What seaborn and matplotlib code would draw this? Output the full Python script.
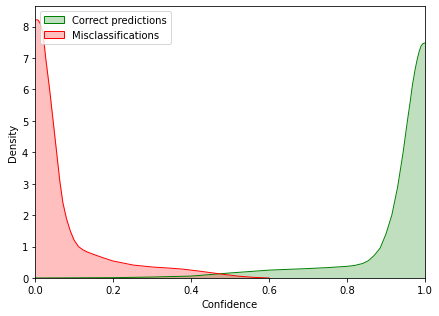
import matplotlib
matplotlib.use("Agg")
import matplotlib.pyplot as plt
import seaborn as sns
from matplotlib.patches import Patch

# Density curves
correct_x = [0.0, 0.1, 0.2, 0.3, 0.4, 0.5, 0.6, 0.7, 0.75, 0.8, 0.82, 0.84, 0.855,
             0.87, 0.885, 0.9, 0.915, 0.93, 0.944, 0.955, 0.962, 0.968, 0.975,
             0.98, 0.985, 0.99, 0.995, 1.0]
correct_y = [0.0, 0.005, 0.01, 0.03, 0.06, 0.16, 0.25, 0.3, 0.33, 0.37, 0.4, 0.46, 0.55,
             0.72, 0.95, 1.4, 2.0, 2.9, 4.0, 5.0, 5.6, 6.15, 6.65,
             6.95, 7.2, 7.38, 7.46, 7.48]

mis_x = [0.0, 0.004, 0.008, 0.013, 0.02, 0.027, 0.037, 0.046, 0.055, 0.063, 0.071,
         0.08, 0.09, 0.1, 0.111, 0.122, 0.133, 0.15, 0.175, 0.2, 0.252, 0.3,
         0.35, 0.38, 0.42, 0.474, 0.52, 0.56, 0.6]
mis_y = [8.2, 8.22, 8.2, 8.1, 7.8, 7.0, 6.0, 5.0, 4.0, 3.1, 2.4,
         1.9, 1.5, 1.2, 1.0, 0.9, 0.83, 0.75, 0.64, 0.54, 0.41, 0.35,
         0.31, 0.28, 0.22, 0.13, 0.06, 0.02, 0.0]

fig, ax = plt.subplots(figsize=(6.11, 4.4), dpi=72)

sns.lineplot(x=correct_x, y=correct_y, color="green", linewidth=1, ax=ax)
ax.fill_between(correct_x, correct_y, color="green", alpha=0.25, linewidth=0)
sns.lineplot(x=mis_x, y=mis_y, color="red", linewidth=1, ax=ax)
ax.fill_between(mis_x, mis_y, color="red", alpha=0.25, linewidth=0)

ax.set_xlim(0, 1)
ax.set_ylim(0, 8.65)
ax.set_xlabel("Confidence")
ax.set_ylabel("Density")

handles = [Patch(facecolor=(0, 0.5, 0, 0.25), edgecolor="green", label="Correct predictions"),
           Patch(facecolor=(1, 0, 0, 0.25), edgecolor="red", label="Misclassifications")]
ax.legend(handles=handles, loc="upper left")

fig.subplots_adjust(left=0.08, right=0.966, top=0.978, bottom=0.12)
plt.savefig("out.png", dpi=72)
